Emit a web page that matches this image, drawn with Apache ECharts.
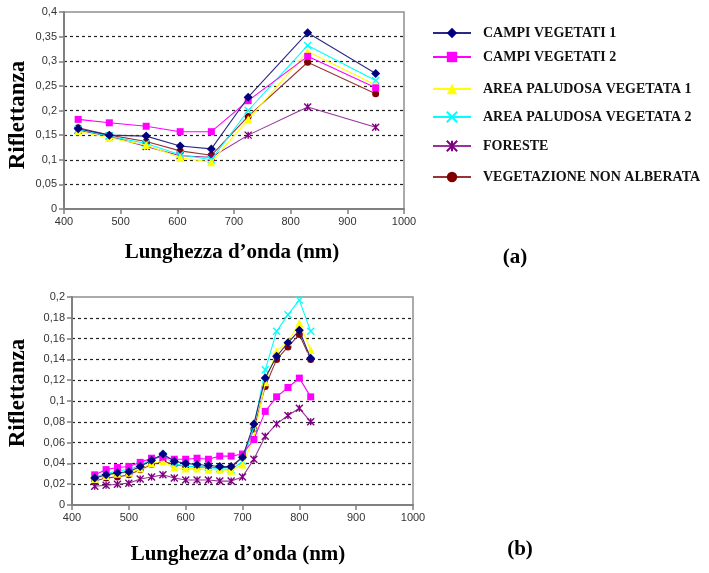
<!DOCTYPE html>
<html><head><meta charset="utf-8">
<script src="https://cdn.jsdelivr.net/npm/echarts@6/dist/echarts.min.js"></script>
<style>html,body{margin:0;padding:0;background:#fff}#c{width:709px;height:573px}</style>
</head><body><div id="c"></div>
<script>
const seriesNames = ['CAMPI VEGETATI 1','CAMPI VEGETATI 2','AREA PALUDOSA VEGETATA 1','AREA PALUDOSA VEGETATA 2','FORESTE','VEGETAZIONE NON ALBERATA'];

// chart (a)
const topX = [425,480,545,605,660,725,830,950];
const topCV1 = [0.163,0.150,0.148,0.128,0.122,0.227,0.358,0.275];
const topCV2 = [0.182,0.175,0.168,0.157,0.157,0.220,0.310,0.246];
const topAPV1 = [0.158,0.144,0.130,0.104,0.095,0.182,0.320,0.252];
const topAPV2 = [0.162,0.148,0.133,0.110,0.100,0.200,0.332,0.261];
const topFOR = [0.160,0.148,0.127,0.108,0.105,0.150,0.207,0.166];
const topVNA = [0.165,0.150,0.137,0.118,0.109,0.188,0.298,0.234];

// chart (b)
const botX = [440,460,480,500,520,540,560,580,600,620,640,660,680,700,720,740,760,780,800,820];
const botCV1 = [0.026,0.029,0.031,0.032,0.037,0.043,0.049,0.042,0.040,0.039,0.038,0.037,0.037,0.046,0.078,0.122,0.143,0.156,0.168,0.141];
const botCV2 = [0.029,0.034,0.036,0.037,0.041,0.045,0.046,0.044,0.044,0.045,0.044,0.047,0.047,0.049,0.063,0.090,0.104,0.113,0.122,0.104];
const botAPV1 = [0.025,0.028,0.030,0.031,0.035,0.040,0.042,0.036,0.035,0.035,0.034,0.034,0.033,0.039,0.065,0.118,0.148,0.157,0.175,0.149];
const botAPV2 = [0.027,0.030,0.033,0.034,0.038,0.044,0.047,0.040,0.037,0.037,0.036,0.035,0.034,0.042,0.075,0.130,0.167,0.183,0.197,0.167];
const botFOR = [0.018,0.019,0.020,0.021,0.025,0.027,0.029,0.026,0.024,0.024,0.024,0.023,0.023,0.027,0.044,0.066,0.078,0.086,0.093,0.080];
const botVNA = [0.023,0.026,0.027,0.029,0.034,0.039,0.042,0.039,0.037,0.037,0.036,0.036,0.036,0.046,0.073,0.114,0.140,0.152,0.164,0.140];

const xTicks = {min:400, max:1000, interval:100};
const yTopTicks = {min:0, max:0.4, interval:0.05};
const yBotTicks = {min:0, max:0.2, interval:0.02};

const styles = [
  {symbol:'diamond', size:9, line:'#2a2a85', mark:'#000080', stroke:false},
  {symbol:'rect', size:7, line:'#ff00ff', mark:'#ff00ff', stroke:false},
  {symbol:'triangle', size:8, line:'#ffff00', mark:'#ffff00', stroke:false},
  {symbol:'path://M0,0L10,10M10,0L0,10', size:7, line:'#00ffff', mark:'#00ffff', stroke:true},
  {symbol:'path://M0,0L10,10M10,0L0,10M5,0L5,10', size:7, line:'#993399', mark:'#800080', stroke:true},
  {symbol:'circle', size:7, line:'#993333', mark:'#800000', stroke:false}
];

const topData = [topCV1, topCV2, topAPV1, topAPV2, topFOR, topVNA];
const botData = [botCV1, botCV2, botAPV1, botAPV2, botFOR, botVNA];
const zip = (xs, ys) => xs.map((x,i)=>[x, ys[i]]);
const fmt = v => String(+v.toFixed(2)).replace('.', ',');

function mkSeries(idx, xs, ys, gi) {
  const s = styles[idx];
  return {
    name: seriesNames[idx], type:'line', xAxisIndex:gi, yAxisIndex:gi,
    data: zip(xs, ys), symbol: s.symbol, symbolSize: s.size, showAllSymbol:true,
    lineStyle:{color:s.line, width:1.1},
    itemStyle: s.stroke ? {color:'rgba(0,0,0,0)', borderColor:s.mark, borderWidth:1.4}
                        : {color:s.mark, borderColor:s.mark, borderWidth:0},
    emphasis:{disabled:true}, animation:false, z: 3 + (5-idx)
  };
}

const series = [];
for (let i=0;i<6;i++) series.push(mkSeries(i, topX, topData[i], 0));
for (let i=0;i<6;i++) series.push(mkSeries(i, botX, botData[i], 1));

function xAx(gi) {
  return Object.assign({gridIndex:gi, type:'value'}, xTicks, {
    axisLine:{show:true, onZero:false, lineStyle:{color:'#808080', width:2}},
    axisTick:{show:true, inside:false, length:5, lineStyle:{color:'#808080', width:1.5}},
    axisLabel:{color:'#333', fontFamily:'Liberation Sans', fontSize:11, margin:7, formatter: v => String(v)},
    splitLine:{show:false}
  });
}
function yAx(gi, ticks) {
  return Object.assign({gridIndex:gi, type:'value'}, ticks, {
    axisLine:{show:true, lineStyle:{color:'#808080', width:2}},
    axisTick:{show:true, inside:false, length:5, lineStyle:{color:'#808080', width:1.5}},
    axisLabel:{color:'#333', fontFamily:'Liberation Sans', fontSize:11, margin:7, formatter:fmt},
    splitLine:{show:true, showMinLine:false, showMaxLine:false, lineStyle:{color:'#222', width:1.2, type:[3,3]}}
  });
}

const legendTops = [33, 57, 89, 117, 146, 177];
const legends = seriesNames.map((n,i)=>({
  data:[n], left:432, top:legendTops[i]-7, orient:'vertical', padding:0,
  itemWidth:38, itemHeight:13, selectedMode:false,
  textStyle:{fontFamily:'Liberation Serif', fontWeight:'bold', fontSize:14, color:'#111', padding:[0,0,0,7]}
}));

const titleFont = {fontFamily:'Liberation Serif', fontWeight:'bold', fill:'#000'};

const option = {
  backgroundColor:'#fff', animation:false,
  grid:[
    {left:64, top:12, width:340, height:197, show:true, borderColor:'#909090', borderWidth:1.5, backgroundColor:'transparent'},
    {left:72, top:297, width:341, height:208, show:true, borderColor:'#909090', borderWidth:1.5, backgroundColor:'transparent'}
  ],
  xAxis:[xAx(0), xAx(1)],
  yAxis:[yAx(0, yTopTicks), yAx(1, yBotTicks)],
  legend: legends,
  series: series,
  graphic:[
    {type:'text', x:18, y:115, rotation:Math.PI/2, style:Object.assign({text:'Riflettanza', fontSize:23, align:'center', verticalAlign:'middle'}, titleFont)},
    {type:'text', x:18, y:393, rotation:Math.PI/2, style:Object.assign({text:'Riflettanza', fontSize:23, align:'center', verticalAlign:'middle'}, titleFont)},
    {type:'text', x:232, y:253, style:Object.assign({text:'Lunghezza d\u2019onda (nm)', fontSize:21, align:'center', verticalAlign:'middle'}, titleFont)},
    {type:'text', x:238, y:555, style:Object.assign({text:'Lunghezza d\u2019onda (nm)', fontSize:21, align:'center', verticalAlign:'middle'}, titleFont)},
    {type:'text', x:515, y:258, style:Object.assign({text:'(a)', fontSize:21, align:'center', verticalAlign:'middle'}, titleFont)},
    {type:'text', x:520, y:550, style:Object.assign({text:'(b)', fontSize:21, align:'center', verticalAlign:'middle'}, titleFont)}
  ]
};
const chart = echarts.init(document.getElementById('c'), null, {renderer:'canvas'});
chart.setOption(option);
</script></body></html>
